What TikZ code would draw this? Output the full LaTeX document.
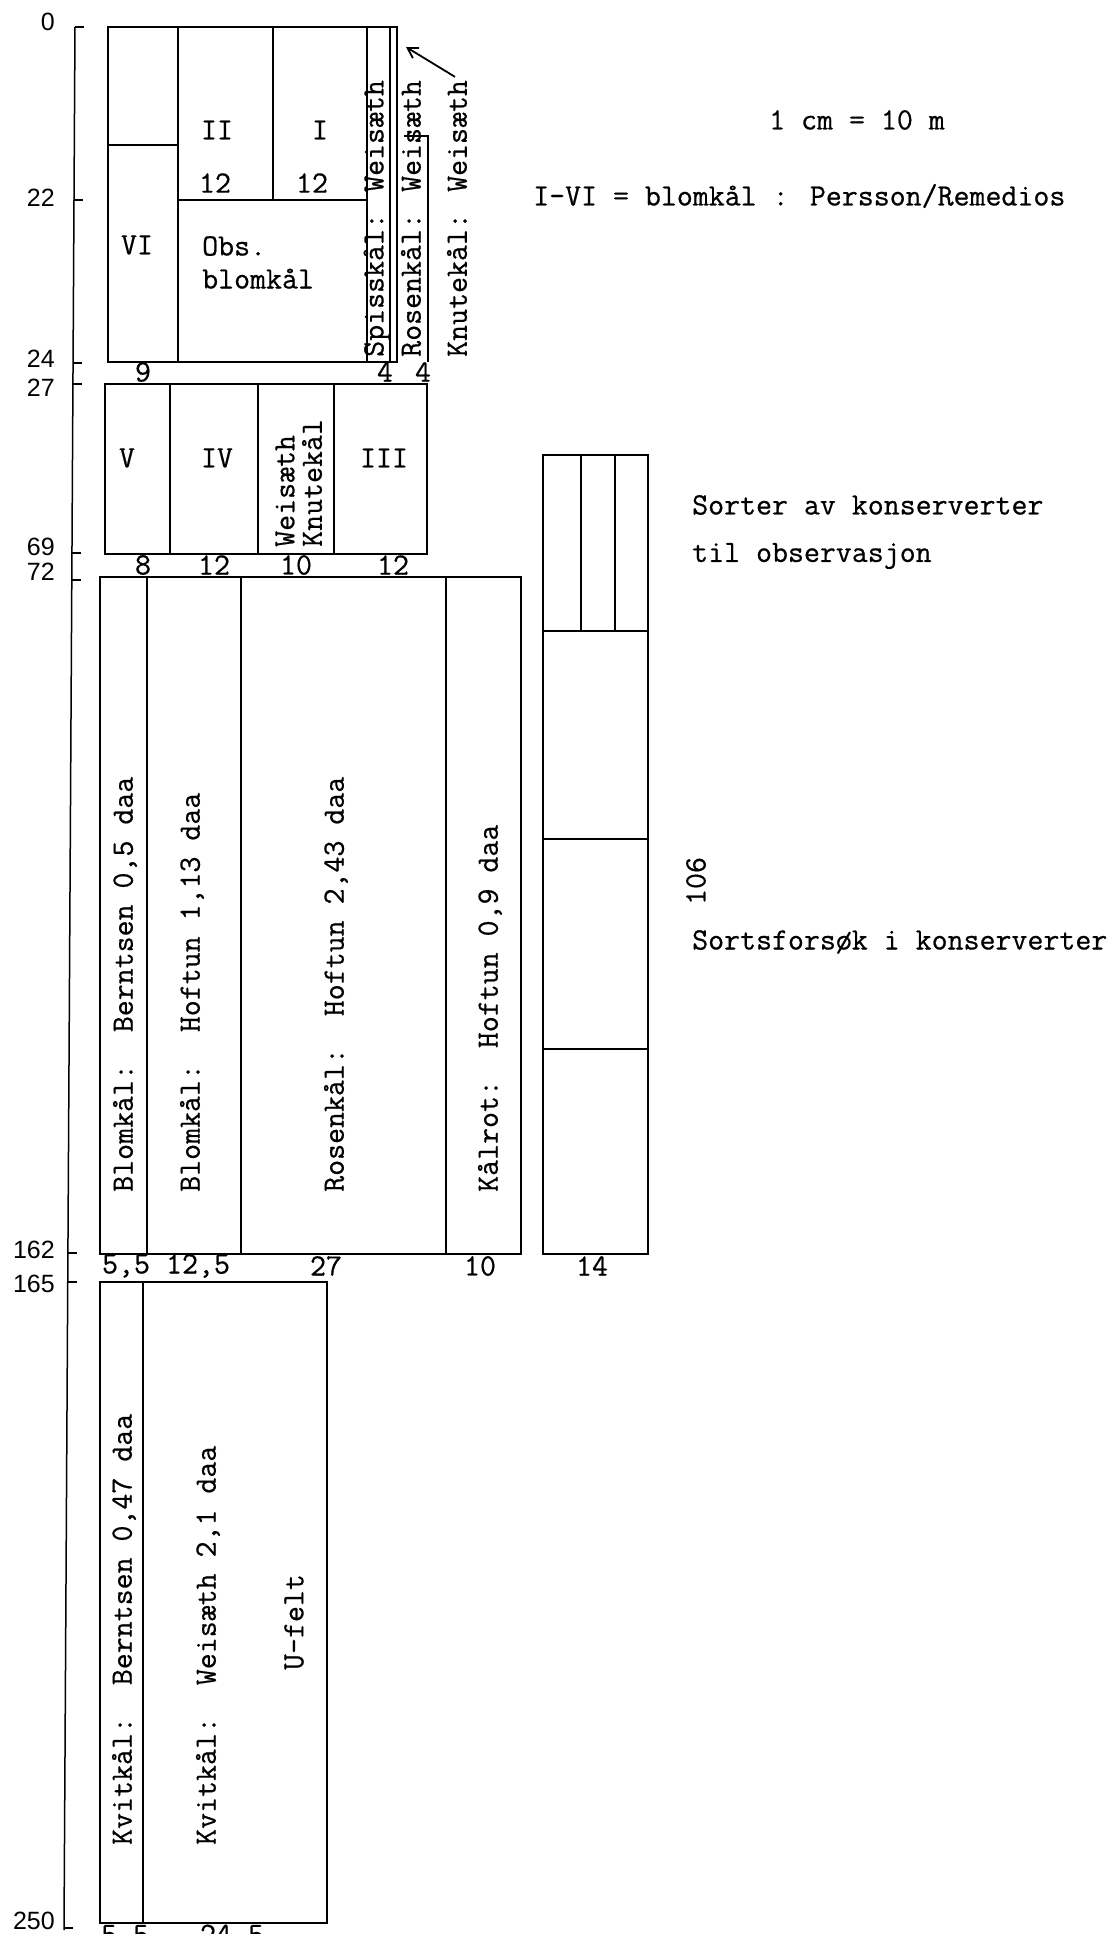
\documentclass[tikz,border=0pt]{standalone}
\usepackage{fontspec}
\newfontfamily\axisfont{Liberation Sans}
\newfontfamily\tw[FakeBold=0.6]{Latin Modern Mono}
\usetikzlibrary{arrows.meta}
\begin{document}
\begin{tikzpicture}[x=1pt,y=-1pt,
  ln/.style={line width=2pt},
  axln/.style={line width=1.5pt},
  lab/.style={font=\tw\fontsize{31}{33}\selectfont, inner sep=0pt},
  rlab/.style={lab, rotate=90, anchor=west},
  axlab/.style={font=\axisfont\fontsize{25}{28}\selectfont, inner sep=0pt, anchor=east},
  arr/.style={line width=1.8pt, -{Straight Barb[length=10pt,width=12pt]}}]
\useasboundingbox (0,0) rectangle (1116,1934);
\clip (0,0) rectangle (1116,1934);
% axis
\draw[axln] (75,27) -- (64,1930);
\foreach \y/\x in {27/75,200/74,363/73,384/73,553/72,580/72,1253/68,1282/68,1928/64}
  \draw[axln] (\x,\y) -- (\x+9,\y);
\node[axlab] (a0) at (55,22) {0};
\node[axlab] (a22) at (55,198) {22};
\node[axlab] (a24) at (55,359) {24};
\node[axlab] (a27) at (55,388) {27};
\node[axlab] (a69) at (55,547) {69};
\node[axlab] (a72) at (55,572) {72};
\node[axlab] (a162) at (55,1250) {162};
\node[axlab] (a165) at (55,1284) {165};
\node[axlab] (a250) at (55,1921) {250};
% block 1
\draw[ln] (108,27) rectangle (397,362);
\draw[ln] (178,27) -- (178,362);
\draw[ln] (108,145) -- (178,145);
\draw[ln] (178,200) -- (367,200);
\draw[ln] (273,27) -- (273,200);
\draw[ln] (367,27) -- (367,362);
\draw[ln] (390,27) -- (390,362);
\draw[ln] (404,136) -- (428,136) -- (428,362);
\node[lab] (tII) at (217,130) {II};
\node[lab] (tI) at (320,130) {I};
\node[lab] (n12a) at (215,183) {12};
\node[lab] (n12b) at (312,183) {12};
\node[lab] (tVI) at (137,245) {VI};
\node[lab, anchor=north west, align=left] (obs) at (202,236) {Obs.\\blomkål};
\node[rlab] (spiss) at (377,357) {Spisskål: Weisæth};
\node[rlab] (rosen) at (411,357) {Rosenkål: Weisæth};
\node[rlab] (knute) at (457,357) {Knutekål: Weisæth};
\coordinate (tip) at (406,47);
\draw[arr] (knute.east) ++(-2,-3) -- (tip);
\node[lab] (n9) at (143,372) {9};
\node[lab] (n4a) at (385,372) {4};
\node[lab] (n4b) at (423,372) {4};
% block 2
\draw[ln] (105,384) rectangle (427,554);
\draw[ln] (170,384) -- (170,554);
\draw[ln] (258,384) -- (258,554);
\draw[ln] (334,384) -- (334,554);
\node[lab] (tV) at (127,458) {V};
\node[lab] (tIV) at (217,458) {IV};
\node[lab] (tIII) at (384,458) {III};
\node[rlab] (wk1) at (285,547) {Weisæth};
\node[rlab] (wk2) at (312,547) {Knutekål};
\node[lab] (n8) at (143,565) {8};
\node[lab] (n12c) at (214,565) {12};
\node[lab] (n10a) at (296,565) {10};
\node[lab] (n12d) at (393,565) {12};
% block 3
\draw[ln] (100,577) rectangle (521,1254);
\draw[ln] (147,577) -- (147,1254);
\draw[ln] (241,577) -- (241,1254);
\draw[ln] (446,577) -- (446,1254);
\node[rlab] (bb) at (125,1192) {Blomkål:\ \ Berntsen 0,5 daa};
\node[rlab] (bh) at (192,1192) {Blomkål:\ \ Hoftun 1,13 daa};
\node[rlab] (rh) at (336,1192) {Rosenkål:\ \ Hoftun 2,43 daa};
\node[rlab] (kh) at (490,1192) {Kålrot:\ \ Hoftun 0,9 daa};
\node[lab] (n55a) at (126,1266) {5,5};
\node[lab] (n125) at (198,1266) {12,5};
\node[lab] (n27) at (326,1266) {27};
\node[lab] (n10b) at (480,1266) {10};
% right block
\draw[ln] (543,455) rectangle (648,1254);
\draw[ln] (543,631) -- (648,631);
\draw[ln] (543,839) -- (648,839);
\draw[ln] (543,1049) -- (648,1049);
\draw[ln] (581,455) -- (581,631);
\draw[ln] (615,455) -- (615,631);
\node[lab] (n14) at (592,1266) {14};
\node[lab, rotate=90] (n106) at (696,881) {106};
% block 4
\draw[ln] (100,1282) rectangle (327,1923);
\draw[ln] (143,1282) -- (143,1923);
\node[rlab] (kb) at (124,1845) {Kvitkål:\ \ Berntsen 0,47 daa};
\node[rlab] (kw) at (208,1845) {Kvitkål:\ \ Weisæth 2,1 daa};
\node[lab, rotate=90] (uf) at (294,1622) {U-felt};
\node[lab, anchor=base] (n55b) at (125,1944) {5,5};
\node[lab, anchor=base] (n245) at (232,1944) {24,5};
% notes
\node[lab] (scale) at (857,120) {1 cm = 10 m};
\node[lab, anchor=west] (legend) at (533,196) {I-VI = blomkål : Persson/Remedios};
\node[lab, anchor=west] (sorter) at (692,505) {Sorter av konserverter};
\node[lab, anchor=west] (til) at (692,556) {til observasjon};
\node[lab, anchor=west] (sforsok) at (692,942) {Sortsforsøk i konserverter};
\end{tikzpicture}
\end{document}
